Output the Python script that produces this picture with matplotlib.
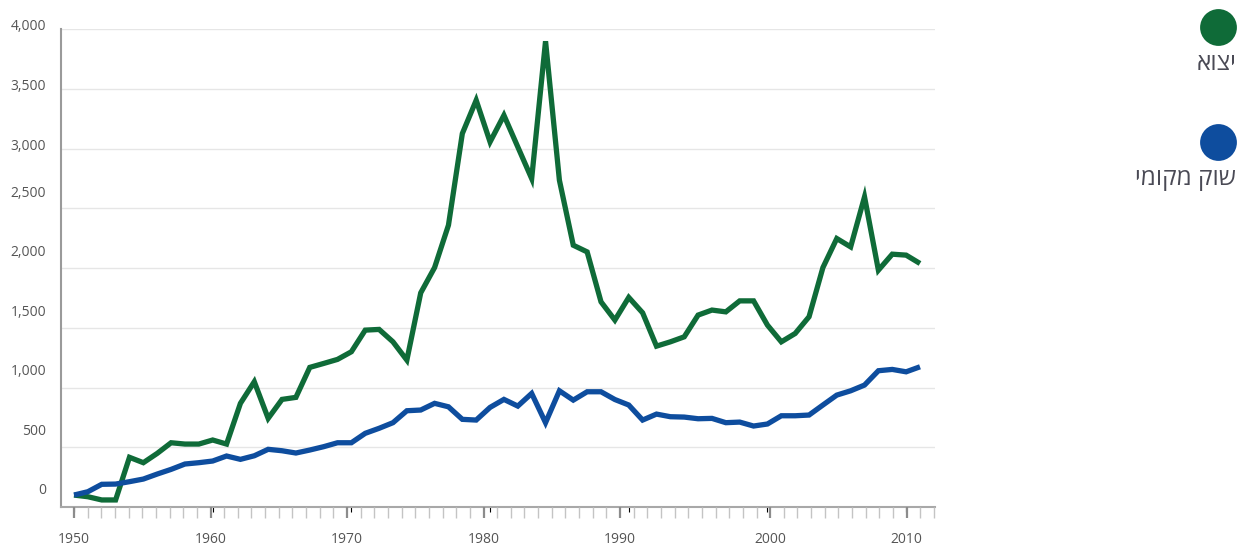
import numpy as np
import matplotlib as mpl
mpl.use('Agg')
import matplotlib.pyplot as plt

plt.rcParams['font.family'] = ['Open Sans', 'DejaVu Sans']

# data
years = list(range(1950, 2012))
export = [100, 86, 59, 59, 416, 371, 449, 538, 527, 527,
          561, 527, 868, 1049, 742, 901, 918, 1169, 1202, 1236,
          1300, 1481, 1487, 1383, 1230, 1793, 2005, 2360, 3127, 3406,
          3057, 3280, 3015, 2750, 3900, 2736, 2192, 2136, 1718, 1565,
          1755, 1626, 1347, 1383, 1425, 1607, 1649, 1634, 1726, 1726,
          1523, 1383, 1453, 1593, 2005, 2248, 2178, 2597, 1983, 2117,
          2109, 2039]
local = [100, 128, 190, 192, 212, 234, 276, 315, 360, 371,
         385, 427, 399, 429, 483, 471, 452, 477, 505, 538,
         538, 617, 659, 706, 806, 812, 868, 839, 734, 728,
         834, 901, 845, 951, 706, 973, 895, 965, 965, 900,
         854, 728, 778, 756, 753, 739, 742, 706, 711, 678,
         695, 764, 764, 770, 854, 937, 973, 1021, 1141, 1152,
         1132, 1174]

# the tick axis of the original has 64 slots (one year appears twice)
tick_years = list(range(1950, 1996)) + list(range(1995, 2013))

series_names = ['יצוא', 'שוק מקומי']
series_colors = ['#0f6b38', '#0e4d9e']

y_ticks = [0, 500, 1000, 1500, 2000, 2500, 3000, 3500, 4000]
# the y labels sit above their gridlines by uneven amounts in the original
y_label_lift = [17, 15.5, 16.5, 15, 16, 15, 2.5, 3, 2.5]

W, H = 1238, 548
fig = plt.figure(figsize=(W / 100, H / 100), dpi=100)
left, right, top, bottom = 61, 935, 29.3, 507
ax = fig.add_axes([left / W, 1 - bottom / H, (right - left) / W, (bottom - top) / H])

# 1950 -> px 74, 2011 -> px 920
px_per_year = (920 - 74) / 61
ax.set_xlim(1950 - (74 - left) / px_per_year, 2011 + (right - 920) / px_per_year)
ax.set_ylim(0, 4000)

for vals, col in zip([export, local], series_colors):
    ax.plot(years, vals, color=col, lw=3.8, solid_joinstyle='miter',
            solid_capstyle='butt', zorder=3)

ax.set_yticks(y_ticks)
ax.yaxis.grid(True, color='#e6e6e6', lw=1)
ax.tick_params(axis='y', length=0, labelleft=False)
ax.tick_params(axis='x', bottom=False, labelbottom=False)
for v, lift in zip(y_ticks, y_label_lift):
    ax.annotate(f'{v:,}', xy=(0, v), xycoords=('axes fraction', 'data'),
                xytext=(-15, lift), textcoords='offset pixels',
                ha='right', va='center', fontsize=10, color='#555555')

for s in ['top', 'right']:
    ax.spines[s].set_visible(False)
ax.spines['left'].set_color('#9a9a9a')
ax.spines['left'].set_linewidth(1.5)
ax.spines['bottom'].set_color('#a8a8a8')
ax.spines['bottom'].set_linewidth(1.5)

# tick axis
ax2 = ax.twiny()
slot_px = (934 - 74) / 63
ax2.set_xlim(-(74 - left) / slot_px, 63 + (right - 934) / slot_px)
ax2.xaxis.set_ticks_position('bottom')
for s in ax2.spines.values():
    s.set_visible(False)
major = [i for i, y in enumerate(tick_years) if y % 10 == 0 and i == tick_years.index(y)]
minor = [i for i in range(len(tick_years)) if i not in major]
ax2.set_xticks(major)
ax2.set_xticklabels([str(tick_years[i]) for i in major])
ax2.set_xticks(minor, minor=True)
ax2.tick_params(axis='x', which='major', length=8, width=1.6, color='#8c8c8c',
                pad=10, labelsize=10, labelcolor='#555555')
ax2.tick_params(axis='x', which='minor', length=8, width=1, color='#c4c4c4')
ax2.tick_params(axis='x', top=False, labeltop=False, which='both')

# legend on the right
lax = fig.add_axes([0, 0, 1, 1])
lax.set_axis_off()
lax.set_xlim(0, W)
lax.set_ylim(H, 0)
legend_y = [27, 142]
for name, col, cy in zip(series_names, series_colors, legend_y):
    lax.scatter([1217.5], [cy], s=26.5 ** 2, color=col, linewidths=0)
    # matplotlib lays text out left to right, so the Hebrew is reversed for display
    lax.text(1236, cy + 37, name[::-1], ha='right', va='center',
             fontsize=17.5, color='#4a4a55')

fig.savefig('out.png', dpi=100)
